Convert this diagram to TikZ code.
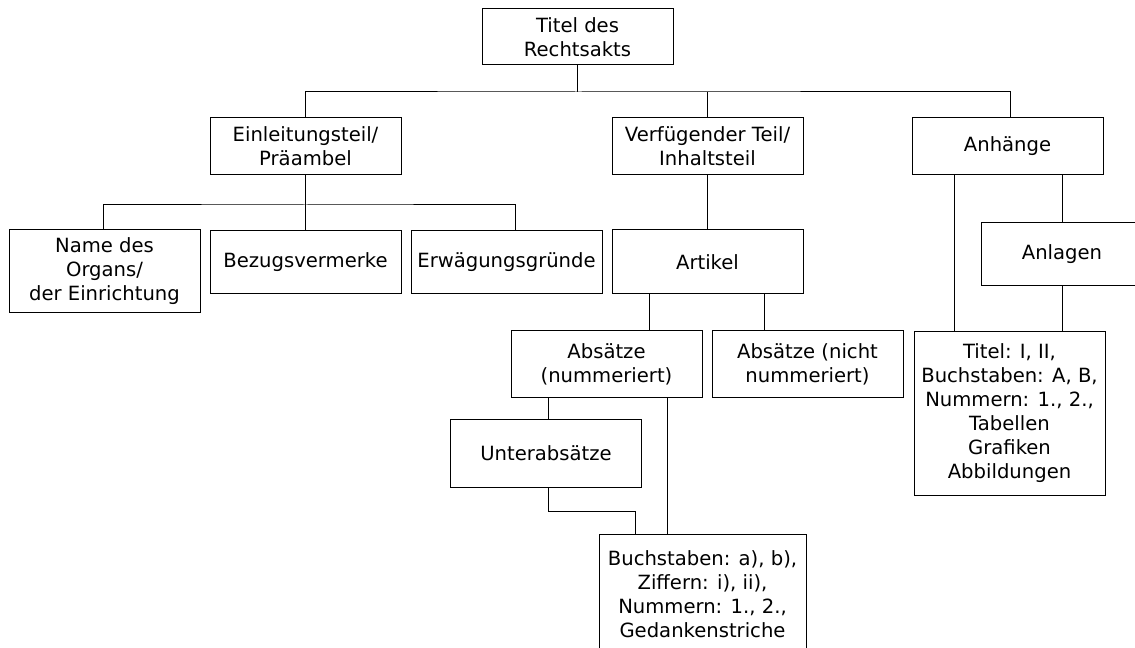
\documentclass[tikz,border=0pt]{standalone}
\usepackage{fontspec}
\setmainfont{DejaVu Sans}

\begin{document}
\begin{tikzpicture}[x=0.75pt, y=-0.75pt,
	box/.style={draw, line width=0.75pt, minimum width=143.25pt, inner sep=0pt, align=center, font=\fontsize{14.7}{18}\selectfont},
	link/.style={line width=0.75pt}]
	\useasboundingbox (0,0) rectangle (1135,648);
	\clip (0,0) rectangle (1135,648);
	% erste und zweite Ebene
	\node (titel) [box, minimum height=42pt] at (577.5,37) {Titel des\\Rechtsakts};
	\node (einl) [box, minimum height=42.75pt] at (305.5,146.5) {Einleitungsteil/\\Präambel};
	\node (verf) [box, minimum height=42.75pt] at (707.5,146.5) {Verfügender Teil/\\Inhaltsteil};
	\node (anh) [box, minimum height=42.75pt] at (1007.5,146.5) {Anhänge};
	% Einleitungsteil
	\node (name) [box, minimum height=62.25pt] at (104.5,271.5) {Name des\\Organs/\\der Einrichtung};
	\node (bezug) [box, minimum height=47.25pt] at (305.5,262.5) {Bezugsvermerke};
	\node (erw) [box, minimum height=47.25pt] at (506.5,262.5) {Erwägungsgründe};
	% Verfuegender Teil
	\node (artikel) [box, minimum height=48pt] at (707.5,262) {Artikel};
	\node (absn) [box, minimum height=50.25pt] at (606.5,364.5) {Absätze\\(nummeriert)};
	\node (absnn) [box, minimum height=50.25pt] at (807.5,364.5) {Absätze (nicht\\nummeriert)};
	\node (unter) [box, minimum height=50.25pt] at (546,453.5) {Unterabsätze};
	\node (buch) [box, minimum width=155.25pt, minimum height=90.75pt] at (702.5,594.5) {Buchstaben: a), b),\\Ziffern: i), ii),\\Nummern: 1., 2.,\\Gedankenstriche};
	% Anhaenge
	\node (anlagen) [box, minimum width=121.5pt, minimum height=47.25pt] at (1062,254.5) {Anlagen};
	\node (titelI) [box, minimum height=122.25pt] at (1009.5,413.5) {Titel: I, II,\\Buchstaben: A, B,\\Nummern: 1., 2.,\\Tabellen\\Grafiken\\Abbildungen};

	\coordinate (bus1) at (577.5,92);
	\coordinate (bus2) at (305.5,205);
	\draw[link] (titel) -- (bus1);
	\draw[link] (einl.north) |- (bus1) -| ([xshift=2.6pt]anh.north);
	\draw[link] (verf.north) -- (verf.north |- bus1);
	\draw[link] (einl) -- (bezug);
	\draw[link] ([xshift=-1.1pt]name.north) |- (bus2) -| ([xshift=6.4pt]erw.north);
	\draw[link] (verf) -- (artikel);
	\draw[link] ([xshift=31.9pt]absn.north) -- ([xshift=31.9pt]absn.north |- artikel.south);
	\draw[link] ([xshift=-31.9pt]absnn.north) -- ([xshift=-31.9pt]absnn.north |- artikel.south);
	\draw[link] ([xshift=2.2pt]unter.north) -- ([xshift=2.2pt]unter.north |- absn.south);
	\draw[link] ([xshift=46.1pt]absn.south) -- ([xshift=46.1pt]absn.south |- buch.north);
	\draw[link] ([xshift=2.2pt]unter.south) -- ++(0,24) -| ([xshift=-49.9pt]buch.north);
	\draw[link] ([xshift=-40.9pt]titelI.north) -- ([xshift=-40.9pt]titelI.north |- anh.south);
	\draw[link] (anlagen.north) -- (anlagen.north |- anh.south);
	\draw[link] (anlagen.south) -- (anlagen.south |- titelI.north);
\end{tikzpicture}
\end{document}
